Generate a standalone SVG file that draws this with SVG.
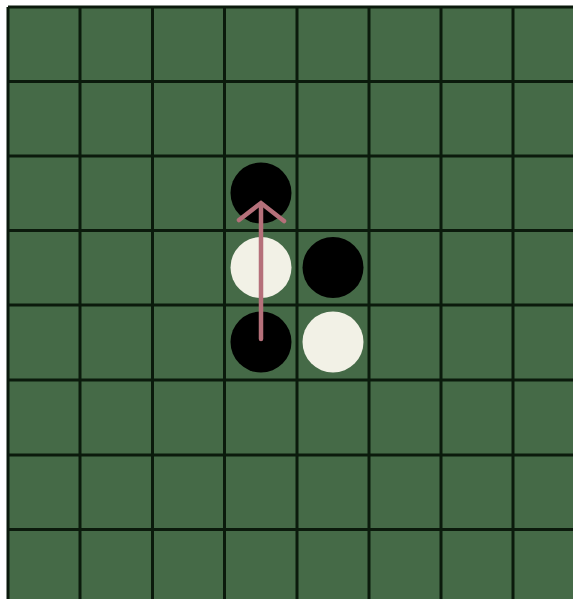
<svg xmlns="http://www.w3.org/2000/svg" width="573" height="599" viewBox="0 0 573 599">
<style>
.grid line{stroke:#0b1a0c;stroke-width:3}
.b{fill:#000}
.w{fill:#f2f1e6}
.arr{stroke:#b5707a;stroke-width:4.5;fill:none;stroke-linecap:round;stroke-linejoin:miter}
</style>
<rect width="573" height="599" fill="#ffffff"/>
<rect x="8" y="7" width="565" height="592" fill="#456a47"/>
<g class="grid" id="grid">
<line x1="8" y1="7" x2="573" y2="7" stroke-width="2"/>
<line x1="8" y1="7" x2="8" y2="599" stroke-width="2"/>
<line x1="80" y1="7" x2="80" y2="599"/>
<line x1="152.5" y1="7" x2="152.5" y2="599"/>
<line x1="224.5" y1="7" x2="224.5" y2="599"/>
<line x1="297" y1="7" x2="297" y2="599"/>
<line x1="369" y1="7" x2="369" y2="599"/>
<line x1="441" y1="7" x2="441" y2="599"/>
<line x1="513" y1="7" x2="513" y2="599"/>
<line x1="8" y1="81.5" x2="573" y2="81.5"/>
<line x1="8" y1="156" x2="573" y2="156"/>
<line x1="8" y1="230.5" x2="573" y2="230.5"/>
<line x1="8" y1="305" x2="573" y2="305"/>
<line x1="8" y1="380" x2="573" y2="380"/>
<line x1="8" y1="455" x2="573" y2="455"/>
<line x1="8" y1="529.5" x2="573" y2="529.5"/>
</g>
<g id="piece-d3"><circle class="b" cx="261" cy="193" r="30.5"/></g>
<g id="piece-d4"><circle class="w" cx="261" cy="267.5" r="30.5"/></g>
<g id="piece-e4"><circle class="b" cx="333" cy="267.5" r="30.5"/></g>
<g id="piece-d5"><circle class="b" cx="261" cy="342" r="30.5"/></g>
<g id="piece-e5"><circle class="w" cx="333" cy="342" r="30.5"/></g>
<g id="connectors">
<line class="arr" x1="261" y1="339" x2="261" y2="204"/>
<polyline class="arr" points="239,220 261,203 284,221"/>
</g>
</svg>
